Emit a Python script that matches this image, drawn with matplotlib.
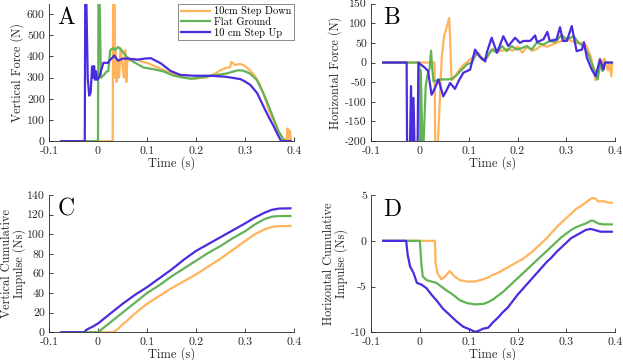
import matplotlib
matplotlib.use("Agg")
import matplotlib.pyplot as plt

plt.rcParams['font.family'] = ['cmr10', 'DejaVu Serif']
plt.rcParams['axes.unicode_minus'] = False
plt.rcParams['axes.formatter.use_mathtext'] = True

ORANGE = '#FFB35C'
GREEN = '#62B356'
BLUE = '#4A2BE0'

labels = ['10cm Step Down', 'Flat Ground', '10 cm Step Up']

# ---------------- Panel A: vertical force ----------------
a_t_down = [-0.075, 0.030, 0.031, 0.034, 0.035, 0.036, 0.038, 0.040, 0.043, 0.046, 0.050, 0.053,
            0.056, 0.058, 0.060, 0.065, 0.070, 0.080, 0.090, 0.100, 0.110, 0.120, 0.130, 0.140,
            0.150, 0.160, 0.170, 0.180, 0.190, 0.200, 0.210, 0.220, 0.230, 0.240, 0.250, 0.260,
            0.270, 0.272, 0.280, 0.290, 0.300, 0.310, 0.320, 0.330, 0.340, 0.350, 0.360, 0.370,
            0.380, 0.385, 0.387, 0.389, 0.392, 0.394]
a_f_down = [0, 0, 700, 700, 300, 420, 280, 380, 300, 440, 350, 300,
            430, 280, 390, 380, 390, 385, 375, 370, 360, 350, 340, 330,
            320, 315, 305, 300, 295, 295, 300, 300, 310, 320, 335, 345,
            350, 375, 360, 365, 355, 335, 310, 270, 210, 140, 90, 40,
            5, 0, 60, 0, 50, 0]

a_t_flat = [-0.075, 0.000, 0.001, 0.003, 0.006, 0.011, 0.018, 0.021, 0.025, 0.031, 0.035, 0.041,
            0.048, 0.058, 0.072, 0.093, 0.113, 0.133, 0.154, 0.174, 0.191, 0.208, 0.235, 0.263,
            0.286, 0.297, 0.310, 0.324, 0.337, 0.348, 0.358, 0.368, 0.378, 0.385, 0.393]
a_f_flat = [0, 0, 700, 700, 300, 310, 330, 330, 430, 440, 430, 445,
            430, 400, 375, 348, 340, 330, 310, 300, 295, 300, 310, 320,
            335, 333, 320, 290, 230, 170, 110, 50, 10, 0, 0]

a_t_up = [-0.075, -0.027, -0.026, -0.024, -0.021, -0.018, -0.015, -0.012, -0.010, -0.008, -0.006,
          -0.004, -0.002, 0.002, 0.006, 0.011, 0.020, 0.025, 0.030, 0.033, 0.041, 0.050, 0.060,
          0.080, 0.095, 0.108, 0.128, 0.148, 0.168, 0.196, 0.230, 0.257, 0.267, 0.291, 0.300,
          0.311, 0.325, 0.338, 0.348, 0.359, 0.369, 0.374, 0.393]
a_f_up = [0, 0, 700, 700, 300, 215, 230, 353, 300, 355, 290,
          330, 290, 300, 330, 370, 370, 385, 395, 405, 380, 390, 390,
          385, 390, 392, 368, 332, 313, 309, 309, 305, 302, 293, 282,
          266, 227, 164, 117, 69, 22, 0, 0]

# ---------------- Panel B: horizontal force ----------------
b_t_down = [-0.075, 0.030, 0.032, 0.035, 0.040, 0.045, 0.050, 0.055, 0.060, 0.062, 0.065, 0.070,
            0.080, 0.090, 0.100, 0.110, 0.120, 0.130, 0.140, 0.150, 0.160, 0.170, 0.180, 0.190,
            0.200, 0.210, 0.220, 0.230, 0.240, 0.250, 0.260, 0.270, 0.280, 0.290, 0.300, 0.310,
            0.320, 0.330, 0.340, 0.350, 0.360, 0.368, 0.372, 0.378, 0.385, 0.388, 0.392, 0.394]
b_f_down = [0, 0, -260, -260, -120, 15, 70, 90, 113, 60, -45, -40,
            -20, -5, 5, 15, 25, 5, 20, 35, 30, 30, 35, 30,
            40, 25, 40, 30, 35, 45, 40, 45, 50, 55, 60, 55,
            50, 50, 45, 15, -45, 10, -5, 10, -20, 0, -35, 0]

b_t_flat = [-0.075, -0.001, 0.000, 0.002, 0.006, 0.012, 0.016, 0.020, 0.023, 0.025, 0.028, 0.041,
            0.055, 0.065, 0.076, 0.086, 0.096, 0.106, 0.117, 0.127, 0.137, 0.147, 0.158, 0.168,
            0.178, 0.188, 0.198, 0.209, 0.219, 0.229, 0.239, 0.253, 0.267, 0.277, 0.290, 0.301,
            0.315, 0.325, 0.335, 0.345, 0.356, 0.364, 0.369, 0.374, 0.379, 0.385]
b_f_flat = [0, 0, -260, -20, -260, -60, -30, -15, 30, -10, -48, -43,
            -43, -42, -31, -18, -5, 0, 25, 8, 12, 33, 25, 42,
            29, 42, 33, 37, 42, 33, 50, 46, 55, 52, 70, 59,
            67, 50, 42, 20, -14, -43, -5, -22, 0, 0]

b_t_up = [-0.075, -0.027, -0.026, -0.021, -0.018, -0.016, -0.013, -0.010, -0.005, -0.003, 0.002,
          0.011, 0.017, 0.024, 0.031, 0.038, 0.048, 0.055, 0.062, 0.072, 0.079, 0.089, 0.096,
          0.103, 0.113, 0.122, 0.134, 0.137, 0.147, 0.158, 0.171, 0.181, 0.195, 0.205, 0.212,
          0.226, 0.236, 0.240, 0.253, 0.261, 0.266, 0.280, 0.287, 0.293, 0.301, 0.311, 0.321,
          0.332, 0.336, 0.342, 0.352, 0.360, 0.369, 0.376, 0.379, 0.393]
b_f_up = [0, 0, -260, -260, -60, -260, -90, -260, -260, 0, -5,
          -14, -22, -82, -65, -43, -86, -70, -52, -67, -48, -26, -22,
          -18, 33, 16, 3, 25, 63, 25, 67, 42, 63, 50, 55,
          55, 69, 52, 59, 78, 55, 59, 90, 55, 55, 93, 29,
          33, 52, 12, -18, -35, 8, -18, 0, 0]

# ---------------- Panel C: vertical cumulative impulse ----------------
c_t_down = [-0.075, 0.030, 0.040, 0.050, 0.060, 0.075, 0.100, 0.125, 0.150, 0.175, 0.200, 0.225,
            0.250, 0.275, 0.300, 0.320, 0.340, 0.355, 0.370, 0.393]
c_i_down = [0, 0, 3, 8, 12, 19, 29, 37, 45, 52, 59, 67,
            75, 84, 93, 100, 105, 107.5, 108.3, 108.5]

c_t_flat = [-0.075, 0.002, 0.005, 0.010, 0.020, 0.030, 0.050, 0.075, 0.100, 0.125, 0.150, 0.175,
            0.200, 0.225, 0.250, 0.275, 0.300, 0.320, 0.340, 0.355, 0.370, 0.393]
c_i_flat = [0, 0, 2, 4, 8, 12, 20, 30, 40, 48, 57, 65,
            73, 81, 88, 96, 103, 110, 115.5, 118, 118.6, 118.7]

c_t_up = [-0.075, -0.027, -0.025, -0.020, -0.010, 0.000, 0.025, 0.050, 0.075, 0.100, 0.125, 0.150,
          0.175, 0.200, 0.225, 0.250, 0.275, 0.300, 0.320, 0.340, 0.355, 0.370, 0.393]
c_i_up = [0, 0, 2, 3.5, 6, 9, 19, 29, 38, 46, 55, 64,
          74, 83, 90, 97, 104, 111, 117, 122, 125, 126.3, 126.5]

# ---------------- Panel D: horizontal cumulative impulse ----------------
d_t_down = [-0.075, 0.031, 0.032, 0.036, 0.044, 0.052, 0.061, 0.071, 0.082, 0.096, 0.113, 0.130,
            0.140, 0.150, 0.160, 0.170, 0.180, 0.190, 0.200, 0.210, 0.220, 0.230, 0.240, 0.250,
            0.260, 0.270, 0.280, 0.290, 0.300, 0.310, 0.320, 0.330, 0.340, 0.350, 0.355, 0.360,
            0.365, 0.375, 0.385, 0.393]
d_i_down = [0, 0, -2.4, -3.5, -4.2, -3.9, -3.3, -3.9, -4.3, -4.45, -4.45, -4.2,
            -4.0, -3.7, -3.5, -3.2, -2.9, -2.6, -2.3, -2.0, -1.6, -1.2, -0.7, -0.2,
            0.3, 0.9, 1.5, 2.0, 2.5, 3.0, 3.5, 3.8, 4.2, 4.6, 4.7, 4.6,
            4.3, 4.35, 4.2, 4.15]

d_t_flat = [-0.075, 0.000, 0.003, 0.006, 0.014, 0.024, 0.034, 0.044, 0.054, 0.068, 0.082, 0.096,
            0.113, 0.130, 0.140, 0.150, 0.160, 0.170, 0.180, 0.190, 0.200, 0.210, 0.220, 0.230,
            0.240, 0.250, 0.260, 0.270, 0.280, 0.290, 0.300, 0.310, 0.320, 0.330, 0.340, 0.350,
            0.355, 0.365, 0.375, 0.393]
d_i_flat = [0, 0, -2.4, -3.9, -4.3, -4.45, -4.6, -5.0, -5.4, -5.9, -6.5, -6.8,
            -6.95, -6.9, -6.7, -6.4, -6.0, -5.6, -5.1, -4.6, -4.1, -3.6, -3.1, -2.6,
            -2.1, -1.6, -1.1, -0.6, -0.1, 0.4, 0.8, 1.2, 1.5, 1.7, 1.9, 2.2,
            2.2, 1.9, 1.8, 1.8]

d_t_up = [-0.075, -0.028, -0.025, -0.020, -0.013, -0.006, 0.004, 0.014, 0.024, 0.034, 0.047, 0.061,
          0.075, 0.089, 0.103, 0.113, 0.120, 0.130, 0.140, 0.150, 0.160, 0.170, 0.180, 0.190,
          0.200, 0.210, 0.220, 0.230, 0.240, 0.250, 0.260, 0.270, 0.280, 0.290, 0.300, 0.310,
          0.320, 0.330, 0.340, 0.350, 0.360, 0.370, 0.393]
d_i_up = [0, 0, -1.5, -2.8, -3.5, -4.6, -4.8, -5.2, -5.9, -6.5, -7.4, -8.1,
          -8.8, -9.4, -9.7, -9.95, -9.85, -9.6, -9.5, -8.9, -8.4, -7.8, -7.3, -6.6,
          -5.9, -5.3, -4.7, -4.1, -3.5, -2.9, -2.3, -1.8, -1.2, -0.7, -0.2, 0.3,
          0.6, 0.9, 1.2, 1.3, 1.15, 1.0, 1.0]

x_ticks = [-0.1, 0, 0.1, 0.2, 0.3, 0.4]
x_ticklabels = ['-0.1', '0', '0.1', '0.2', '0.3', '0.4']

fig = plt.figure(figsize=(6.23, 3.6), dpi=100)
axA = fig.add_axes([0.0787, 0.608, 0.393, 0.382])
axB = fig.add_axes([0.5955, 0.608, 0.392, 0.382])
axC = fig.add_axes([0.0787, 0.077, 0.393, 0.381])
axD = fig.add_axes([0.5955, 0.077, 0.392, 0.381])

LW = 1.6
def draw(ax, series):
    for (t, v), c, lab in zip(series, [ORANGE, GREEN, BLUE], labels):
        ax.plot(t, v, color=c, lw=LW, label=lab, solid_joinstyle='round')

draw(axA, [(a_t_down, a_f_down), (a_t_flat, a_f_flat), (a_t_up, a_f_up)])
draw(axB, [(b_t_down, b_f_down), (b_t_flat, b_f_flat), (b_t_up, b_f_up)])
draw(axC, [(c_t_down, c_i_down), (c_t_flat, c_i_flat), (c_t_up, c_i_up)])
draw(axD, [(d_t_down, d_i_down), (d_t_flat, d_i_flat), (d_t_up, d_i_up)])

cfg = [
    (axA, (0, 650), list(range(0, 700, 100)), 'Vertical Force (N)', 'A', 0.07, 2),
    (axB, (-200, 150), list(range(-200, 200, 50)), 'Horizontal Force (N)', 'B', 0.085, 2),
    (axC, (0, 140), list(range(0, 160, 20)), 'Vertical Cumulative\nImpulse (Ns)', 'C', 0.07, 0.5),
    (axD, (-10, 5), [-10, -5, 0, 5], 'Horizontal Cumulative\nImpulse (Ns)', 'D', 0.085, 2),
]
GRAY = '#262626'
for ax, ylim, yt, ylab, letter, lx, lp in cfg:
    ax.set_xlim(-0.1, 0.4)
    ax.set_ylim(*ylim)
    ax.set_xticks(x_ticks)
    ax.set_xticklabels(x_ticklabels)
    ax.set_yticks(yt)
    ax.set_yticklabels([str(v) for v in yt])
    for s in ['top', 'right']:
        ax.spines[s].set_visible(False)
    for s in ['left', 'bottom']:
        ax.spines[s].set_color(GRAY)
        ax.spines[s].set_linewidth(0.6)
    ax.tick_params(direction='in', length=3, width=0.6, labelsize=8.5,
                   colors=GRAY, labelcolor=GRAY)
    ax.tick_params(axis='x', pad=4)
    ax.tick_params(axis='y', pad=3)
    ax.set_xlabel('Time (s)', fontsize=9, color=GRAY, labelpad=0)
    ax.set_ylabel(ylab, fontsize=8.8, color=GRAY, labelpad=lp, linespacing=0.95)
    ax.text(lx, 0.975, letter, transform=ax.transAxes, fontsize=17,
            va='top', ha='center', color='black')

leg = axA.legend(loc='upper right', bbox_to_anchor=(1.0, 1.0), fontsize=7.5,
                 frameon=True, fancybox=False, borderpad=0.25, labelspacing=0.1,
                 handlelength=2.8, handletextpad=0.4, borderaxespad=0.0)
leg.get_frame().set_edgecolor('#555555')
leg.get_frame().set_linewidth(0.6)

fig.savefig('out.png', dpi=100)
